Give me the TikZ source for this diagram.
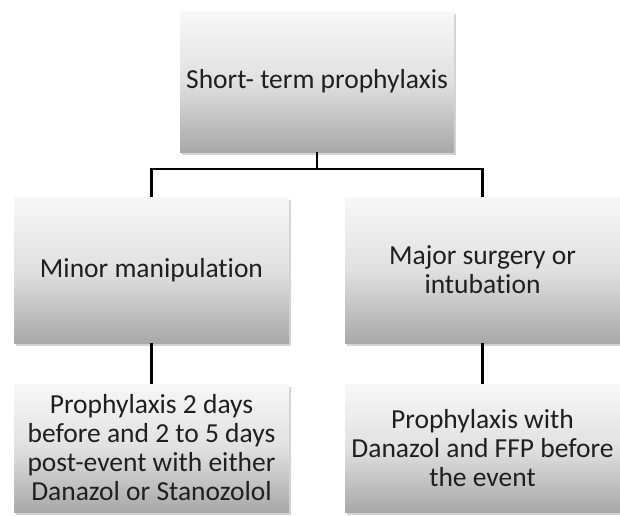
\documentclass[tikz,border=0pt]{standalone}
\usepackage{fontspec}
\setmainfont{Carlito}[Ligatures=NoCommon]
\usetikzlibrary{shadows,positioning}

\begin{document}
\begin{tikzpicture}[x=1pt,y=-1pt,
  box/.style={shading=axis,top color=black!3,bottom color=black!34,middle color=black!12,
    drop shadow={shadow xshift=1.5pt,shadow yshift=-2.5pt,opacity=0.35,fill=gray},
    minimum width=275pt,align=center,inner sep=0pt,text=black!88,
    font=\fontsize{27.5}{29}\selectfont},
  link/.style={line width=2.2pt,black}]
\useasboundingbox (0,0) rectangle (620,515);
\node[box,minimum width=274pt,minimum height=141pt] (shortterm) at (317,81.5) {Short- term prophylaxis};
\node[box,minimum height=146pt] (minor) at (151.5,270) {Minor manipulation};
\node[box,minimum height=146pt] (major) at (482.5,270) {Major surgery or\\intubation};
\node[box,minimum height=128pt] (minorplan) at (151.5,448) {Prophylaxis 2 days\\before and 2 to 5 days\\post-event with either\\Danazol or Stanozolol};
\node[box,minimum height=128pt] (majorplan) at (482.5,448) {Prophylaxis with\\Danazol and FFP before\\the event};
\draw[link] (shortterm.south) -- ++(0,17) coordinate (split) -| (minor.north);
\draw[link] (split) -| (major.north);
\draw[link] (minor.south) -- (minorplan.north);
\draw[link] (major.south) -- (majorplan.north);
\end{tikzpicture}
\end{document}
